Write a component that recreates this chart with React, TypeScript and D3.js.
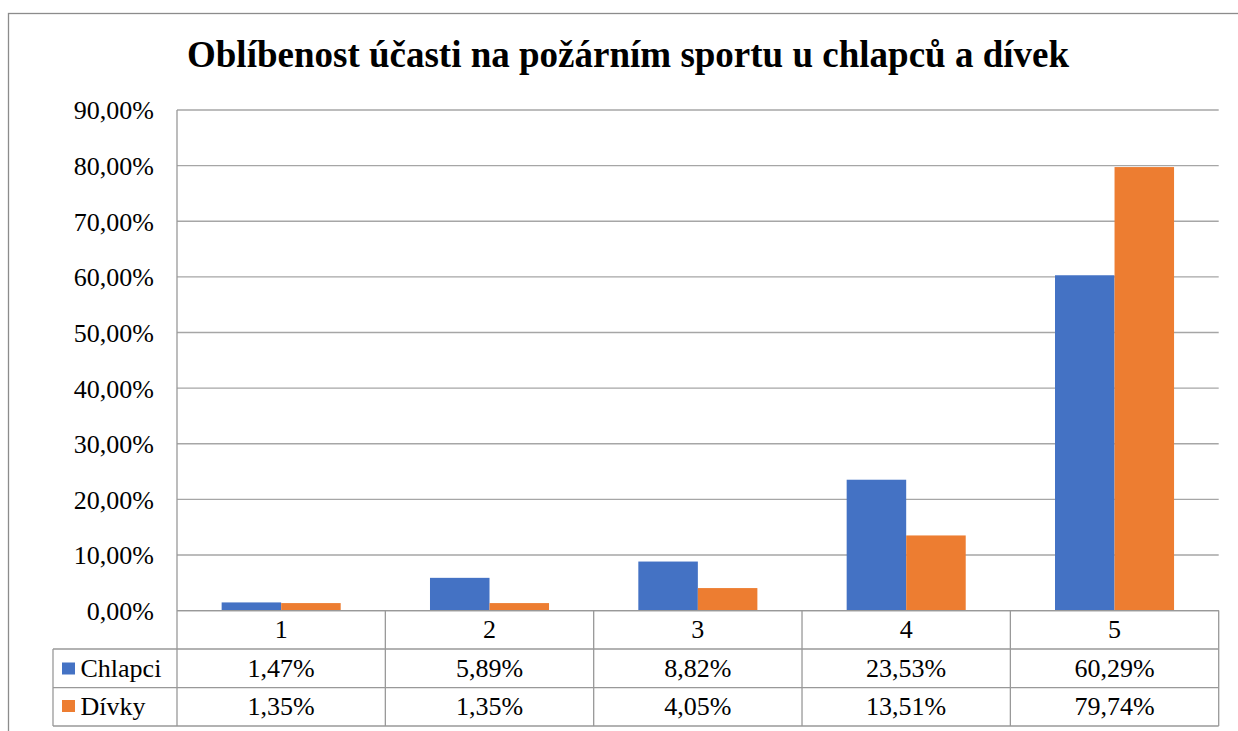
import React from "react";
import * as d3 from "d3";

const TITLE = "Oblíbenost účasti na požárním sportu u chlapců a dívek";
const categories = ["1", "2", "3", "4", "5"];
const seriesNames = ["Chlapci", "Dívky"];
const chlapci = [1.47, 5.89, 8.82, 23.53, 60.29];
const divky = [1.35, 1.35, 4.05, 13.51, 79.74];
const chlapciLabels = ["1,47%", "5,89%", "8,82%", "23,53%", "60,29%"];
const divkyLabels = ["1,35%", "1,35%", "4,05%", "13,51%", "79,74%"];
const yTicks = [0, 10, 20, 30, 40, 50, 60, 70, 80, 90];
const colors = ["#4472C4", "#ED7D31"];

const W = 1238;
const H = 731;
const FONT = "Liberation Serif, Times New Roman, serif";

export default function App() {
  const plotLeft = 177;
  const plotRight = 1218.7;
  const plotTop = 110;
  const plotBottom = 610.6;
  const legendLeft = 53;
  const rowLines = [plotBottom, 649, 687.7, 726];

  const x = d3.scaleBand<string>().domain(categories).range([plotLeft, plotRight]).paddingInner(0).paddingOuter(0);
  const xs = d3.scaleBand<string>().domain(seriesNames).range([0, x.bandwidth()]).paddingInner(0).paddingOuter(0.75);
  const y = d3.scaleLinear().domain([0, 90]).range([plotBottom, plotTop]);
  const fmt = (v: number) => d3.format(".2f")(v).replace(".", ",") + "%";

  const data = [chlapci, divky];
  const labels = [chlapciLabels, divkyLabels];
  const gridColor = "#a6a6a6";
  const lineColor = "#999999";

  return (
    <svg width={W} height={H} style={{ position: "absolute", left: 0, top: 0, background: "#fff", fontFamily: FONT }}>
      <rect x={0} y={0} width={W} height={H} fill="#fff" />
      <rect x={8.5} y={13.5} width={1300} height={900} fill="none" stroke="#8c8c8c" strokeWidth={1.3} />
      <text x={628} y={67} textAnchor="middle" fontSize={37} fontWeight="bold" fill="#000">{TITLE}</text>

      {yTicks.map((t) => (
        <line key={t} x1={plotLeft} x2={plotRight} y1={y(t)} y2={y(t)} stroke={t === 0 ? lineColor : gridColor} strokeWidth={1.3} />
      ))}
      {yTicks.map((t) => (
        <text key={"l" + t} x={154} y={y(t) + 9.4} textAnchor="end" fontSize={26} fill="#000">{fmt(t)}</text>
      ))}

      {data.map((arr, si) =>
        arr.map((v, ci) => (
          <rect
            key={si + "-" + ci}
            x={(x(categories[ci]) as number) + (xs(seriesNames[si]) as number)}
            y={y(v)}
            width={xs.bandwidth()}
            height={y(0) - y(v)}
            fill={colors[si]}
          />
        ))
      )}

      <line x1={plotLeft} x2={plotLeft} y1={plotTop} y2={rowLines[3]} stroke={lineColor} strokeWidth={1.3} />

      <line x1={plotLeft} x2={plotRight} y1={rowLines[0]} y2={rowLines[0]} stroke={lineColor} strokeWidth={1.3} />
      {rowLines.slice(1).map((r, i) => (
        <line key={"r" + i} x1={legendLeft} x2={plotRight} y1={r} y2={r} stroke={lineColor} strokeWidth={1.3} />
      ))}
      <line x1={legendLeft} x2={legendLeft} y1={rowLines[1]} y2={rowLines[3]} stroke={lineColor} strokeWidth={1.3} />
      {categories.map((c) => (
        <line key={"v" + c} x1={(x(c) as number) + x.bandwidth()} x2={(x(c) as number) + x.bandwidth()} y1={rowLines[0]} y2={rowLines[3]} stroke={lineColor} strokeWidth={1.3} />
      ))}
      {categories.map((c) => (
        <text key={"c" + c} x={(x(c) as number) + x.bandwidth() / 2} y={638.3} textAnchor="middle" fontSize={26} fill="#000">{c}</text>
      ))}
      {labels.map((arr, si) =>
        arr.map((lbl, ci) => (
          <text key={"t" + si + ci} x={(x(categories[ci]) as number) + x.bandwidth() / 2} y={si === 0 ? 677 : 714.5} textAnchor="middle" fontSize={26} fill="#000">{lbl}</text>
        ))
      )}
      {seriesNames.map((s, si) => (
        <g key={"lg" + s}>
          <rect x={62} y={si === 0 ? 662.5 : 700} width={13} height={12} fill={colors[si]} />
          <text x={80.5} y={si === 0 ? 677 : 714.5} fontSize={26} fill="#000">{s}</text>
        </g>
      ))}
    </svg>
  );
}
